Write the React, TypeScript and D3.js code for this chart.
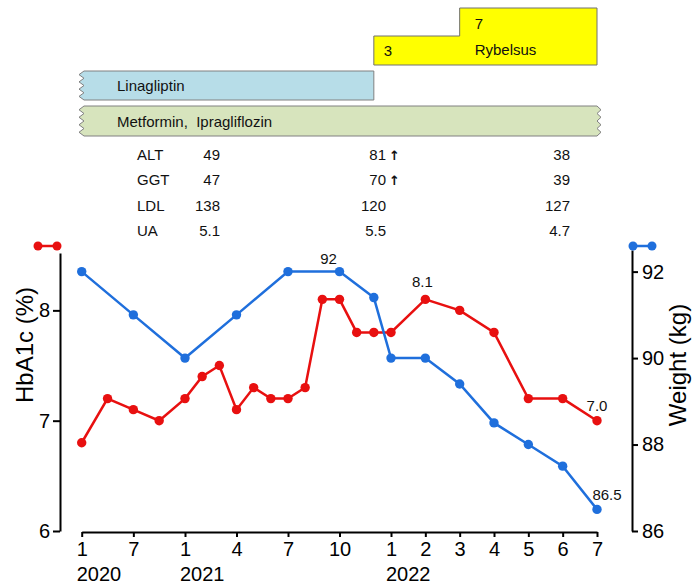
import React, { useEffect, useRef } from 'react';
import * as d3 from 'd3';

// months since Jan 2020
const hba1cMonths = [0, 3, 6, 9, 12, 13, 14, 15, 16, 17, 18, 19, 20, 21, 22, 23, 24, 25, 26, 27, 28, 29, 30];
const hba1c = [6.8, 7.2, 7.1, 7.0, 7.2, 7.4, 7.5, 7.1, 7.3, 7.2, 7.2, 7.3, 8.1, 8.1, 7.8, 7.8, 7.8, 8.1, 8.0, 7.8, 7.2, 7.2, 7.0];
const weightMonths = [0, 6, 12, 15, 18, 21, 23, 24, 25, 26, 27, 28, 29, 30];
const weight = [92, 91, 90, 91, 92, 92, 91.4, 90, 90, 89.4, 88.5, 88, 87.5, 86.5];

const tickMonths = [0, 6, 12, 15, 18, 21, 24, 25, 26, 27, 28, 29, 30];
const tickLabels = ['1', '7', '1', '4', '7', '10', '1', '2', '3', '4', '5', '6', '7'];
const yearMonths = [0, 12, 24];
const yearLabels = ['2020', '2021', '2022'];

const labNames = ['ALT', 'GGT', 'LDL', 'UA'];
const labs2020 = ['49', '47', '138', '5.1'];
const labs2021 = ['81', '70', '120', '5.5'];
const labsHigh2021 = [true, true, false, false];
const labs2022 = ['38', '39', '127', '4.7'];

const FONT = '"Liberation Sans", Arial, sans-serif';
const RED = '#e81010';
const BLUE = '#1f6fdc';

function zigzag(x: number, y0: number, y1: number, amp: number, n: number) {
  const pts: [number, number][] = [];
  for (let i = 0; i <= n; i++) {
    pts.push([i % 2 === 0 ? x : x - amp, y0 + ((y1 - y0) * i) / n]);
  }
  return pts;
}

function App() {
  const svgRef = useRef<SVGSVGElement>(null);

  useEffect(() => {
    document.body.style.margin = '0';
    const svg = d3.select(svgRef.current);
    svg.selectAll('*').remove();

    const x = d3.scaleLinear().domain([0, 12, 24, 30]).range([81.7, 185, 391, 597]);
    const yL = d3.scaleLinear().domain([6, 8.52]).range([531, 253]);
    const yR = d3.scaleLinear().domain([86, 92.5]).range([531, 250]);

    // treatment bars
    const lineGen = d3.line();
    const metTop = 106, metBot = 136;
    const metPts = [
      ...zigzag(84, metTop, metBot, 5, 8),
      ...zigzag(x(30), metBot, metTop, -4, 8),
    ] as [number, number][];
    svg.append('path').attr('d', lineGen(metPts) + 'Z')
      .attr('fill', '#d7e4bd').attr('stroke', '#808080').attr('stroke-width', 1);
    svg.append('text').attr('x', 117).attr('y', 127).text('Metformin,  Ipragliflozin')
      .attr('font-family', FONT).attr('font-size', 15).attr('fill', '#111').style('white-space', 'pre');

    const linTop = 71, linBot = 100;
    const linPts = [
      ...zigzag(84, linTop, linBot, 5, 8),
      [x(23), linBot], [x(23), linTop],
    ] as [number, number][];
    svg.append('path').attr('d', lineGen(linPts) + 'Z')
      .attr('fill', '#b7dde8').attr('stroke', '#808080').attr('stroke-width', 1);
    svg.append('text').attr('x', 117).attr('y', 91).text('Linagliptin')
      .attr('font-family', FONT).attr('font-size', 15).attr('fill', '#111');

    const rybPts: [number, number][] = [
      [x(23), 36], [x(26), 36], [x(26), 8], [x(30), 8], [x(30), 65], [x(23), 65],
    ];
    svg.append('path').attr('d', lineGen(rybPts) + 'Z')
      .attr('fill', '#ffff00').attr('stroke', '#707070').attr('stroke-width', 1);
    const topText = [
      { x: x(23) + 10, y: 56, t: '3' },
      { x: x(26) + 15, y: 29, t: '7' },
      { x: x(26) + 15, y: 55, t: 'Rybelsus' },
    ];
    svg.selectAll('.ryb').data(topText).enter().append('text')
      .attr('x', d => d.x).attr('y', d => d.y).text(d => d.t)
      .attr('font-family', FONT).attr('font-size', 15).attr('fill', '#111');

    // lab table
    const rowY = (i: number) => 160 + i * 25.3;
    const tbl = svg.append('g').attr('font-family', FONT).attr('font-size', 15).attr('fill', '#111');
    labNames.forEach((name, i) => {
      tbl.append('text').attr('x', 137).attr('y', rowY(i)).text(name);
      tbl.append('text').attr('x', 220).attr('y', rowY(i)).attr('text-anchor', 'end').text(labs2020[i]);
      tbl.append('text').attr('x', 386).attr('y', rowY(i)).attr('text-anchor', 'end').text(labs2021[i]);
      if (labsHigh2021[i]) {
        tbl.append('text').attr('x', 389).attr('y', rowY(i)).attr('font-family', '"DejaVu Sans", sans-serif')
          .attr('font-size', 13).attr('font-weight', 'bold').text('↑');
      }
      tbl.append('text').attr('x', 570).attr('y', rowY(i)).attr('text-anchor', 'end').text(labs2022[i]);
    });

    // axes
    const styleAxis = (g: any) => {
      g.select('.domain').attr('stroke-width', 2);
      g.selectAll('.tick line').attr('stroke-width', 2);
      g.selectAll('.tick text').attr('font-family', FONT).attr('font-size', 20).attr('fill', '#000');
    };
    svg.append('g').attr('transform', 'translate(60,0)')
      .call(d3.axisLeft(yL).tickValues([6, 7, 8]).tickFormat(d3.format('d')).tickSize(7).tickSizeOuter(0).tickPadding(3))
      .call(styleAxis);
    svg.append('g').attr('transform', 'translate(632,0)')
      .call(d3.axisRight(yR).tickValues([86, 88, 90, 92]).tickFormat(d3.format('d')).tickSize(6).tickSizeOuter(0).tickPadding(4))
      .call(styleAxis);
    svg.append('g').attr('transform', 'translate(0,532)')
      .call(d3.axisBottom(x).tickValues(tickMonths).tickFormat((d, i) => tickLabels[i]).tickSize(5).tickSizeOuter(0).tickPadding(5))
      .call(styleAxis);
    svg.selectAll('.year').data(yearMonths).enter().append('text')
      .attr('x', d => x(d) - 5).attr('y', 581).text((d, i) => yearLabels[i])
      .attr('font-family', FONT).attr('font-size', 20).attr('fill', '#000');

    svg.append('text').attr('transform', 'translate(33,345) rotate(-90)')
      .attr('text-anchor', 'middle').text('HbA1c (%)')
      .attr('font-family', FONT).attr('font-size', 24).attr('fill', '#000');
    svg.append('text').attr('transform', 'translate(686,365) rotate(-90)')
      .attr('text-anchor', 'middle').text('Weight (kg)')
      .attr('font-family', FONT).attr('font-size', 24).attr('fill', '#000');

    // legend markers
    const legends = [
      { x0: 38, x1: 57, c: RED },
      { x0: 633, x1: 652, c: BLUE },
    ];
    legends.forEach(l => {
      svg.append('line').attr('x1', l.x0).attr('x2', l.x1).attr('y1', 246).attr('y2', 246)
        .attr('stroke', l.c).attr('stroke-width', 2.5);
      [l.x0, l.x1].forEach(cx => svg.append('circle').attr('cx', cx).attr('cy', 246).attr('r', 4.5).attr('fill', l.c));
    });

    // series
    const redLine = d3.line<number>().x((d, i) => x(hba1cMonths[i])).y(d => yL(d));
    svg.append('path').attr('d', redLine(hba1c)).attr('fill', 'none').attr('stroke', RED).attr('stroke-width', 2.5);
    svg.selectAll('.rdot').data(hba1c).enter().append('circle')
      .attr('cx', (d, i) => x(hba1cMonths[i])).attr('cy', d => yL(d)).attr('r', 4.7).attr('fill', RED);

    const blueLine = d3.line<number>().x((d, i) => x(weightMonths[i])).y(d => yR(d));
    svg.append('path').attr('d', blueLine(weight)).attr('fill', 'none').attr('stroke', BLUE).attr('stroke-width', 2.5);
    svg.selectAll('.bdot').data(weight).enter().append('circle')
      .attr('cx', (d, i) => x(weightMonths[i])).attr('cy', d => yR(d)).attr('r', 4.7).attr('fill', BLUE);

    // annotations
    const notes = [
      { x: x(21) - 11, y: yR(92) - 8, t: '92' },
      { x: x(25) - 3, y: yL(8.1) - 12, t: '8.1' },
      { x: x(30), y: yL(7.0) - 10, t: '7.0' },
      { x: x(30) + 10, y: yR(86.5) - 9, t: '86.5' },
    ];
    svg.selectAll('.note').data(notes).enter().append('text')
      .attr('x', d => d.x).attr('y', d => d.y).attr('text-anchor', 'middle').text(d => d.t)
      .attr('font-family', FONT).attr('font-size', 15).attr('fill', '#111');
  }, []);

  return (
    <div>
      <svg ref={svgRef} width={693} height={586} style={{ display: 'block', background: '#fff' }} />
    </div>
  );
}

export default App;
